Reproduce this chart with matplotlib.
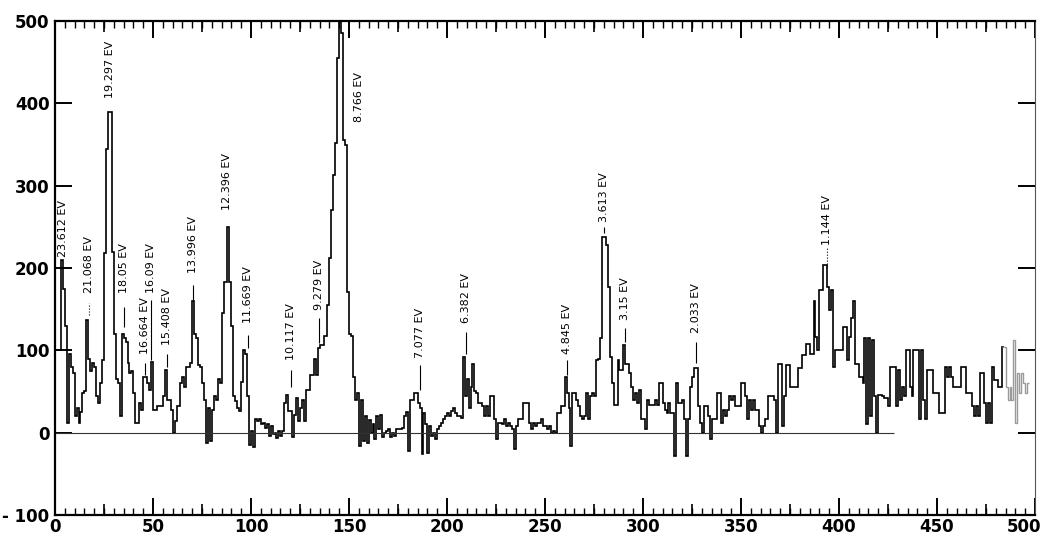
import numpy as np
import matplotlib
matplotlib.use('Agg')
import matplotlib.pyplot as plt
import matplotlib.transforms as mtransforms
from matplotlib.ticker import MultipleLocator

# 채널별 계수 (그림에서 읽은 값, 채널 0 ~ 496)
counts = [
    100, 100, 100, 210, 175, 130, 12, 95, 80, 72, 20, 30, 12, 25, 48, 50, 137, 90, 75, 85,
    80, 45, 36, 60, 88, 218, 345, 390, 390, 220, 120, 65, 60, 20, 120, 115, 110, 85, 72, 75,
    48, 12, 12, 36, 28, 68, 68, 60, 52, 86, 28, 28, 32, 32, 32, 44, 76, 40, 40, 28,
    0, 14, 32, 32, 60, 68, 55, 80, 80, 85, 160, 120, 115, 82, 80, 60, 40, -12, 30, -10,
    28, 44, 40, 65, 60, 145, 183, 183, 250, 183, 130, 45, 38, 30, 26, 62, 100, 95, 45, -15,
    2, -18, 16, 14, 16, 10, 12, 6, 10, -4, 8, -2, 0, -6, 2, -4, 2, 36, 46, 26,
    26, -5, 22, 42, 14, 30, 40, 14, 52, 52, 70, 70, 90, 70, 103, 107, 107, 118, 118, 155,
    212, 270, 313, 352, 455, 500, 485, 355, 350, 171, 120, 117, 68, 40, 48, -16, 40, -10, 20, -12,
    15, 0, 10, -8, 20, 5, 22, -5, 0, 2, 4, -5, 0, -4, 4, 4, 4, 6, 20, 25,
    -22, 40, 40, 48, 48, 36, 30, -26, 24, 10, -25, 8, -4, 0, -8, 4, 8, 12, 16, 20,
    24, 20, 26, 30, 24, 20, 20, 18, 92, 45, 65, 30, 56, 84, 50, 48, 36, 36, 32, 20,
    32, 20, 44, 44, 16, -8, 12, 12, 10, 16, 8, 12, 8, 4, -20, 8, 16, 16, 16, 36,
    36, 36, 12, 4, 12, 8, 12, 12, 16, 8, 8, 4, 8, 0, 2, 0, 24, 24, 32, 32,
    68, 48, 30, -16, 48, 48, 40, 32, 20, 16, 20, 48, 16, 44, 48, 44, 88, 90, 115, 238,
    238, 228, 177, 92, 60, 34, 34, 88, 76, 76, 106, 84, 84, 72, 56, 40, 48, 36, 52, 16,
    16, 4, 40, 33, 33, 33, 40, 33, 60, 60, 36, 28, 24, 36, 24, 24, -28, 60, 36, 36,
    40, 16, -28, 16, 56, 68, 79, 79, 32, 12, 0, 32, 32, 20, -8, 16, 16, 16, 48, 48,
    12, 28, 20, 28, 44, 40, 44, 32, 32, 32, 60, 60, 44, 16, 40, 28, 40, 28, 28, 8,
    0, 8, 16, 16, 44, 44, 44, 40, 0, 84, 84, 8, 44, 82, 82, 56, 56, 56, 56, 79,
    79, 94, 94, 108, 108, 96, 96, 160, 116, 100, 173, 173, 204, 204, 177, 149, 173, 80, 100, 100,
    100, 100, 128, 128, 88, 116, 139, 160, 84, 84, 68, 68, 60, 115, 10, 115, 20, 112, 45, 0,
    46, 46, 44, 42, 42, 32, 80, 80, 80, 32, 76, 40, 56, 44, 100, 100, 56, 44, 100, 100,
    100, 16, 100, 40, 16, 76, 76, 76, 48, 48, 48, 24, 24, 24, 80, 68, 80, 68, 56, 56,
    56, 56, 80, 80, 80, 48, 48, 48, 32, 20, 32, 20, 72, 72, 36, 12, 36, 12, 80, 64,
    64, 56, 56, 104, 104, 56, 40, 56, 40, 112, 12, 72, 48, 72, 60, 48, 60,
]

# 피크 이름과 채널 위치
peak_labels = ['23.612 EV', '21.068 EV', '19.297 EV', '18.05 EV', '16.664 EV', '16.09 EV',
               '15.408 EV', '13.996 EV', '12.396 EV', '11.669 EV', '10.117 EV', '9.279 EV',
               '8.766 EV', '7.077 EV', '6.382 EV', '4.845 EV', '3.613 EV', '3.15 EV',
               '2.033 EV', '1.144 EV']
peak_ch = [4, 17.1, 28, 35.2, 46, 49.2, 57.1, 70.4, 87.8, 98.5, 120.4, 134.7,
           155, 186.2, 209.7, 261.2, 280.1, 290.8, 327, 393.9]

x_ticks = list(range(0, 501, 50))
y_ticks = list(range(-100, 501, 100))
y_tick_labels = ['- 100', '0', '100', '200', '300', '400', '500']

# 글자 아래쪽 높이, 지시선 (시작, 끝, 점선여부)
label_pos = [(213, None), (170, (143, 158, True)), (406, None), (170, (128, 153, False)),
             (95, (70, 85, False)), (170, (88, 161, False)), (107, (80, 95, False)),
             (194, (161, 179, False)), (270, None), (133, (103, 119, False)),
             (88, (55, 76, False)), (149, (109, 139, False)), (377, None),
             (91, (52, 82, False)), (133, (95, 122, False)), (95, (70, 88, False)),
             (256, (242, 250, False)), (137, (110, 127, False)), (121, (85, 110, False)),
             (228, (201, 225, True))]

fig = plt.figure(figsize=(10.46, 5.36), dpi=100)
ax = fig.add_axes([0.0526, 0.0392, 0.9369, 0.9216])

edges = np.arange(len(counts) + 1)
gray_from = 483
ax.stairs(counts[:gray_from + 1], edges[:gray_from + 2], baseline=None, color='black', lw=1.2)
ax.stairs(counts[gray_from:], edges[gray_from:], baseline=None, color='#9a9a9a', lw=1.0)

# 0 기준선
ax.hlines(0, 0, 428, color='#333333', lw=0.8)

for text, ch, (bottom, leader) in zip(peak_labels, peak_ch, label_pos):
    ax.text(ch, bottom, text, rotation=90, ha='center', va='bottom', fontsize=8)
    if leader:
        ax.vlines(ch, leader[0], leader[1], color='black', lw=0.8,
                  linestyles=':' if leader[2] else '-')

ax.set_xlim(0, 500)
ax.set_ylim(-100, 500)
ax.set_xticks(x_ticks)
ax.xaxis.set_minor_locator(MultipleLocator(5))
ax.set_xticklabels([str(v) for v in x_ticks], fontsize=12, fontweight='bold')
ax.set_yticks(y_ticks)
ax.set_yticklabels(y_tick_labels, fontsize=12, fontweight='bold')

ax.tick_params(axis='x', which='major', direction='in', length=12, width=1.4, top=True, pad=2)
ax.tick_params(axis='x', which='minor', direction='in', length=5, width=1.0, top=True)
ax.tick_params(axis='y', which='major', direction='in', length=12, width=1.4, right=True, pad=4)

# 마지막 x 라벨(500)은 그림 밖으로 나가지 않게 조금 왼쪽으로
last = ax.get_xticklabels()[-1]
last.set_transform(last.get_transform() + mtransforms.ScaledTranslation(-8 / 72, 0, fig.dpi_scale_trans))

# 25 단위 중간 눈금
for side in ['bottom', 'top']:
    sec = ax.secondary_xaxis(side)
    sec.set_xticks(np.arange(25, 500, 50))
    sec.set_xticklabels([])
    sec.tick_params(direction='in', length=8, width=1.2)
    for s in sec.spines.values():
        s.set_visible(False)

for side in ['left', 'bottom', 'top']:
    ax.spines[side].set_linewidth(1.6)
ax.spines['right'].set_linewidth(0.8)
ax.spines['right'].set_color('#555555')

plt.savefig('out.png', dpi=100)
